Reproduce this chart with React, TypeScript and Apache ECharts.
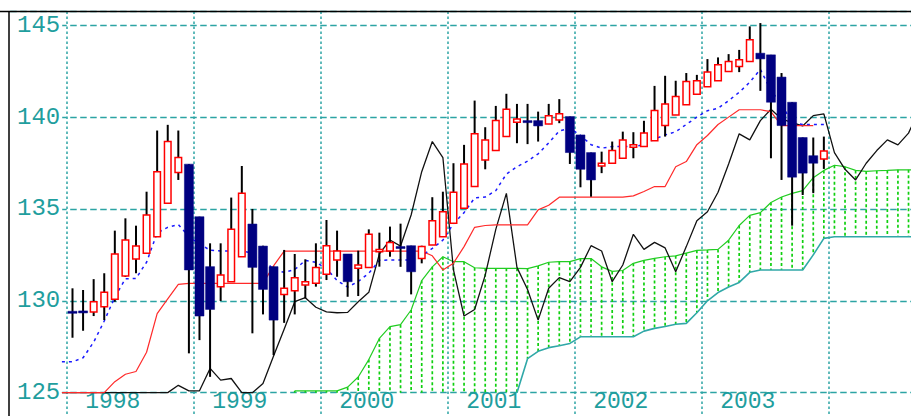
import React, { useEffect, useRef } from 'react';
import * as echarts from 'echarts';

// Monthly candles, Jan 1998 (index 0) .. Dec 2003 (index 71)
const opens = [
  129.40, 129.42, 129.39, 129.68, 130.08, 131.35, 132.27, 132.59, 133.49, 135.31, 136.98, 137.44,
  134.58, 131.86, 130.77, 131.04, 132.40, 134.18, 132.98, 131.86, 130.35, 130.55, 130.86, 130.95,
  131.44, 132.22, 132.55, 131.77, 131.82, 132.67, 132.71, 132.92, 133.00, 132.31, 133.04, 133.49,
  134.22, 135.04, 136.22, 137.67, 138.18, 138.94, 139.72, 139.81, 139.81, 139.62, 139.85, 140.03,
  139.03, 138.07, 137.34, 137.49, 137.76, 138.36, 138.40, 138.71, 139.54, 140.12, 140.67, 141.25,
  141.66, 141.98, 142.48, 142.75, 143.03, 143.48, 143.39, 142.18, 140.81, 138.89, 137.90, 137.72,
];
const closes = [
  129.35, 129.37, 129.95, 130.46, 132.55, 133.31, 132.98, 134.67, 137.03, 138.67, 137.80, 131.68,
  129.17, 129.53, 131.40, 133.89, 135.85, 131.82, 130.62, 128.95, 130.68, 131.26, 131.04, 131.82,
  133.00, 132.71, 131.04, 131.95, 133.62, 132.80, 133.18, 132.88, 131.58, 132.95, 134.36, 134.85,
  135.91, 137.45, 139.09, 138.76, 139.81, 140.43, 139.90, 139.70, 139.52, 140.08, 140.18, 138.07,
  137.16, 136.58, 137.49, 138.18, 138.76, 138.49, 139.13, 140.36, 140.71, 141.12, 141.94, 141.98,
  142.45, 142.85, 143.03, 143.12, 144.21, 143.17, 140.81, 139.54, 136.73, 136.95, 137.49, 138.16,
];
const lows = [
  127.99, 128.37, 129.17, 128.95, 129.95, 131.30, 131.50, 132.59, 133.49, 135.31, 136.58, 127.14,
  127.86, 125.86, 129.99, 131.04, 132.40, 128.23, 129.26, 127.04, 128.80, 129.26, 130.13, 130.77,
  131.13, 131.31, 130.22, 130.26, 131.82, 131.86, 132.40, 131.85, 130.35, 132.04, 133.04, 133.49,
  134.22, 135.04, 136.22, 137.16, 138.18, 138.94, 138.58, 138.53, 138.67, 139.62, 139.67, 137.45,
  136.18, 135.67, 136.95, 137.49, 137.76, 137.76, 138.40, 138.71, 138.94, 140.12, 140.67, 141.25,
  141.66, 141.98, 142.48, 142.45, 143.03, 141.43, 137.76, 136.58, 134.09, 135.76, 135.86, 137.18,
];
const highs = [
  130.68, 130.59, 131.18, 131.50, 133.82, 134.49, 134.09, 135.94, 139.27, 139.58, 139.27, 137.44,
  134.58, 133.13, 133.13, 135.62, 137.34, 135.00, 133.00, 131.86, 132.77, 132.55, 132.26, 133.13,
  134.40, 133.82, 132.55, 132.73, 133.89, 133.71, 134.04, 134.20, 133.00, 133.00, 135.64, 135.94,
  137.49, 138.49, 140.90, 139.45, 140.61, 141.27, 140.72, 140.72, 140.30, 140.72, 140.98, 140.03,
  139.03, 138.07, 138.12, 138.67, 139.21, 139.18, 139.80, 141.70, 142.25, 141.98, 142.40, 142.30,
  143.16, 143.25, 143.43, 143.66, 144.94, 145.12, 143.39, 142.40, 140.81, 138.89, 138.89, 138.94,
];

// Black line: closes drawn 25 months ahead; these are the values read before Jan 1998's close appears (months -1..24)
const LAG = 25;
const lagStart = -1;
const laggingBefore = [
  125, 125, 125, 125, 125, 125, 125, 125, 125, 125, 125, 125.4, 125.1,
  125.1, 126.32, 125.68, 125.77, 125.0, 125.0, 125.5, 127.0, 128.45, 129.95, 130.17, 129.65, 129.4,
].slice(0, LAG - lagStart);

// Red line (months -1..71)
const kijun = [
  125, 125, 125, 125, 125, 125.6, 126.0, 126.15, 127.2, 129.3, 130.1, 130.9, 130.95,
  130.95, 130.95, 130.95, 130.95, 130.95, 130.95, 130.95, 131.9, 132.71, 132.71, 132.71, 132.71,
  132.71, 132.71, 132.71, 132.71, 132.71, 132.71, 132.71, 132.71, 132.71, 132.71, 132.45, 131.68,
  132.05, 132.95, 134.0, 134.1, 134.13, 134.13, 134.13, 134.13, 134.95, 135.2, 135.64, 135.64,
  135.64, 135.64, 135.64, 135.64, 135.64, 135.71, 135.95, 136.22, 136.22, 137.3, 137.58, 138.5,
  139.0, 139.6, 140.0, 140.4, 140.4, 140.4, 140.3, 139.54, 139.54, 139.54, 139.54,
];
// Blue dashed line (months -1..71)
const tenkan = [
  126.68, 126.68, 126.9, 127.75, 128.9, 130.2, 131.2, 131.22, 132.1, 133.7, 134.0, 134.15, 133.5,
  133.1, 132.75, 132.71, 132.71, 132.71, 132.6, 132.3, 131.7, 131.55, 131.7, 132.2, 132.1, 131.75,
  131.1, 130.75, 131.05, 131.5, 132.2, 132.22, 132.22, 132.22, 132.45, 132.85, 133.3, 134.2,
  134.8, 135.6, 135.65, 136.0, 136.9, 137.3, 137.6, 138.0, 138.6, 139.25, 139.4, 139.0, 138.5,
  138.31, 138.4, 138.4, 138.4, 138.5, 138.8, 139.03, 139.2, 139.6, 140.0, 140.35, 140.48, 140.9,
  141.35, 141.9, 142.6, 141.45, 140.7, 139.7, 139.6, 139.6, 139.6,
];
// Green line (months 21..80)
const spanAStart = 21;
const spanA = [
  125.1, 125.1, 125.1, 125.1, 125.1, 125.3, 125.85, 126.8, 127.95, 128.59, 128.7, 129.5, 131.1,
  131.85, 132.4, 132.13, 132.13, 131.8, 131.77, 131.77, 131.77, 131.77, 131.75, 131.9, 132.1,
  132.13, 132.13, 132.3, 132.3, 131.85, 131.6, 131.65, 132.04, 132.2, 132.31, 132.4, 132.45,
  132.6, 132.75, 132.77, 132.8, 133.3, 134.1, 134.65, 134.8, 135.35, 135.65, 135.85, 136.0,
  136.7, 137.1, 137.38, 137.3, 137.1, 137.05, 137.08, 137.1, 137.13, 137.13, 137.13,
];
// Teal line (months 42..80); below the chart floor before that
const spanBStart = 42;
const spanB = [
  125.0, 126.85, 127.25, 127.45, 127.55, 127.68, 128.04, 128.04, 128.04, 128.04, 128.04, 128.04,
  128.35, 128.5, 128.6, 128.72, 128.77, 129.35, 130.0, 130.45, 130.75, 131.0, 131.55, 131.68,
  131.68, 131.68, 131.68, 131.68, 132.5, 133.4, 133.49, 133.49, 133.49, 133.49, 133.49, 133.49,
  133.49, 133.49, 133.49,
];
const CLOUD_FLOOR = 125;
const yearLabels = ['1998', '1999', '2000', '2001', '2002', '2003'];

const SHIFT = 80; // chart canvas starts this far left of the visible page
const X_MIN = -12;
const X_MAX = 80.5;
const MONTH_PX = 910.1 / 86;
const FRAME_X = 9 + SHIFT;
const GRID_LEFT = FRAME_X - (0 - X_MIN - 5.5) * MONTH_PX;
const CANVAS_W = 940 + SHIFT;

const TEAL = '#2ca4a4';
const LABEL = '#1f9e9e';
const FONT = 'Liberation Mono';

const at = (start: number, vals: number[]) => vals.map((v, k) => [start + k + 0.5, v]);

export default function App() {
  const ref = useRef<HTMLDivElement>(null);
  useEffect(() => {
    if (!ref.current) return;
    const chart = echarts.init(ref.current, undefined, { renderer: 'svg' });

    const candles = opens.map((o, i) => [i + 0.5, o, closes[i], lows[i], highs[i]]);
    const lagging = at(lagStart, [...laggingBefore, ...closes]).filter((p) => p[0] <= X_MAX);
    const hatch = spanA.map((a, k) => {
      const j = spanAStart + k;
      const bi = j - spanBStart;
      const b = bi >= 0 ? spanB[bi] : CLOUD_FLOOR;
      return [j + 0.5, a, b];
    });

    const option: any = {
      animation: false,
      backgroundColor: '#fff',
      grid: {
        left: GRID_LEFT,
        top: 11.5,
        width: (X_MAX - X_MIN) * MONTH_PX,
        height: 473,
        containLabel: false,
        outerBoundsMode: 'none',
      },
      xAxis: {
        type: 'value',
        min: X_MIN,
        max: X_MAX,
        interval: 12,
        axisLine: { show: false },
        axisTick: { show: false },
        splitLine: { show: true, lineStyle: { color: TEAL, width: 1.5, type: [2.5, 2.5] } },
        axisLabel: {
          show: true,
          inside: true,
          margin: 73.5,
          align: 'left',
          lineHeight: 18,
          padding: [0, 0, 0, 18],
          color: LABEL,
          fontFamily: FONT,
          fontSize: 23,
          formatter: (v: number) => {
            const k = v / 12;
            return Number.isInteger(k) && k >= 0 && k < yearLabels.length ? yearLabels[k] : '';
          },
        },
      },
      yAxis: {
        type: 'value',
        min: 120,
        max: 145.75,
        interval: 5,
        offset: -(FRAME_X - GRID_LEFT),
        axisLine: { show: false },
        axisTick: { show: false },
        splitLine: { show: true, lineStyle: { color: TEAL, width: 1.3, type: [6.5, 3.5] } },
        axisLabel: {
          inside: true,
          margin: 0,
          padding: [0, 2, 0, 8],
          color: LABEL,
          fontFamily: FONT,
          fontSize: 24,
          backgroundColor: '#fff',
          formatter: (v: number) =>
            v >= 125 && v <= 145 && Math.abs(v % 5) < 1e-6 ? String(v) : '',
        },
      },
      graphic: [
        { type: 'rect', z: 99, shape: { x: 0, y: 0, width: FRAME_X, height: 500 }, style: { fill: '#fff' } },
        { type: 'line', z: 100, shape: { x1: 0, y1: 11.5, x2: CANVAS_W, y2: 11.5 }, style: { stroke: '#000', lineWidth: 1.5 } },
        { type: 'line', z: 100, shape: { x1: FRAME_X, y1: 11, x2: FRAME_X, y2: 500 }, style: { stroke: '#000', lineWidth: 1.5 } },
      ],
      series: [
        {
          type: 'custom',
          name: 'cloud',
          z: 1,
          encode: { x: 0, y: [1, 2] },
          data: hatch,
          renderItem: (_p: any, api: any) => {
            const a = api.coord([api.value(0), api.value(1)]);
            const b = api.coord([api.value(0), api.value(2)]);
            return {
              type: 'line',
              shape: { x1: a[0], y1: a[1], x2: b[0], y2: b[1] },
              style: { stroke: '#0fcf0f', lineWidth: 1.7, lineDash: [3, 2.5] },
            };
          },
        },
        {
          type: 'line', name: 'spanB', z: 2, data: at(spanBStart, spanB), symbol: 'none',
          lineStyle: { color: '#30a8a8', width: 1.6 },
        },
        {
          type: 'line', name: 'spanA', z: 2, data: at(spanAStart, spanA), symbol: 'none',
          lineStyle: { color: '#22cc22', width: 1.2 },
        },
        {
          type: 'line', name: 'lagging', z: 3, data: lagging, symbol: 'none',
          lineStyle: { color: '#111', width: 1.3 },
        },
        {
          type: 'line', name: 'kijun', z: 4, data: at(-1, kijun), symbol: 'none',
          lineStyle: { color: '#ff2a2a', width: 1.2 },
        },
        {
          type: 'line', name: 'tenkan', z: 5, data: at(-1, tenkan), symbol: 'none',
          lineStyle: { color: '#1a1aff', width: 1.5, type: [3, 4] },
        },
        {
          type: 'custom',
          name: 'candles',
          z: 6,
          encode: { x: 0, y: [1, 2, 3, 4] },
          data: candles,
          renderItem: (_p: any, api: any) => {
            const x = api.value(0);
            const o = api.value(1);
            const c = api.value(2);
            const hi = api.coord([x, api.value(4)]);
            const lo = api.coord([x, api.value(3)]);
            const po = api.coord([x, o]);
            const pc = api.coord([x, c]);
            const up = c >= o;
            const bw = api.size([1, 0])[0];
            const w = up ? bw * 0.62 : bw * 0.85;
            let y1 = Math.min(po[1], pc[1]);
            let y2 = Math.max(po[1], pc[1]);
            if (y2 - y1 < 2) {
              const m = (y1 + y2) / 2;
              y1 = m - 1;
              y2 = m + 1;
            }
            return {
              type: 'group',
              children: [
                {
                  type: 'line',
                  shape: { x1: hi[0], y1: hi[1], x2: lo[0], y2: lo[1] },
                  style: { stroke: '#000', lineWidth: 2 },
                },
                {
                  type: 'rect',
                  shape: { x: hi[0] - w / 2, y: y1, width: w, height: y2 - y1 },
                  style: up
                    ? { fill: '#fff', stroke: '#ff0000', lineWidth: 1.5 }
                    : { fill: '#000080', stroke: '#000080', lineWidth: 0.5 },
                },
              ],
            };
          },
        },
      ],
    };
    chart.setOption(option);
    return () => chart.dispose();
  }, []);

  return (
    <div style={{ position: 'absolute', left: 0, top: 0, width: 911, height: 416, overflow: 'hidden', background: '#fff' }}>
      <div ref={ref} style={{ position: 'absolute', left: -SHIFT, top: 0, width: CANVAS_W, height: 500 }} />
    </div>
  );
}
